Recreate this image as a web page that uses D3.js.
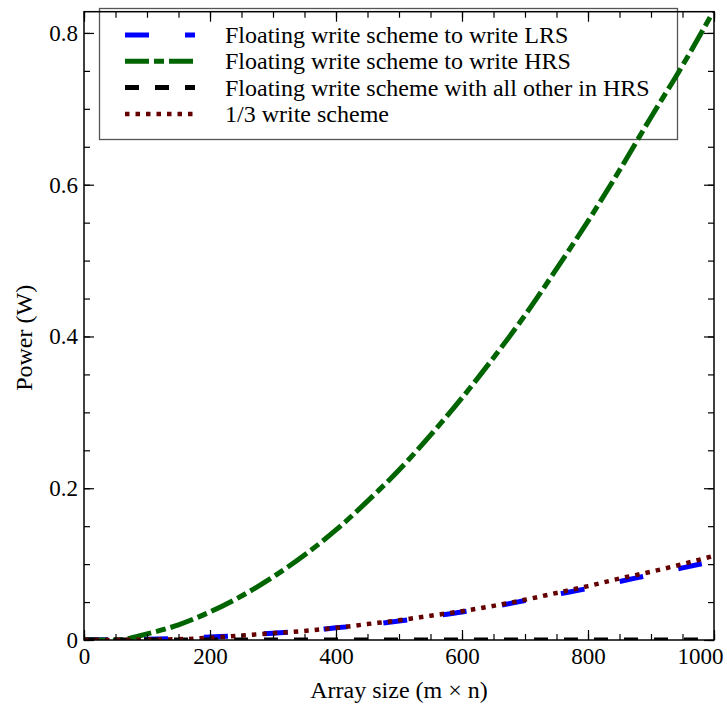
<!DOCTYPE html>
<html>
<head>
<meta charset="utf-8">
<script src="https://cdn.jsdelivr.net/npm/d3@7"></script>
<style>
  body { margin: 0; background: #fff; }
  svg text { font-family: "Liberation Serif", "DejaVu Serif", serif; fill: #000; }
</style>
</head>
<body>
<svg width="727" height="708"></svg>
<script>
// array size samples (m x n)
var arraySize = [0, 50, 100, 150, 200, 250, 300, 350, 400, 450, 500,
                 550, 600, 650, 700, 750, 800, 850, 900, 950, 1000];
// power (W)
var lrsPower = [0, 0.0005, 0.001, 0.002, 0.004, 0.006, 0.009, 0.012, 0.016, 0.020, 0.025,
                0.031, 0.037, 0.044, 0.052, 0.060, 0.068, 0.077, 0.086, 0.095, 0.104];
var hrsPower = [0, 0, 0.008, 0.020, 0.037, 0.058, 0.083, 0.112, 0.145, 0.183, 0.224,
                0.270, 0.319, 0.372, 0.428, 0.489, 0.552, 0.619, 0.689, 0.757, 0.830];
var otherHrsPower = [0, 0, 0, 0, 0, 0, 0, 0, 0, 0, 0,
                     0, 0, 0, 0, 0, 0, 0, 0, 0, 0];
var thirdPower = [0, 0, 0.0005, 0.001, 0.003, 0.006, 0.009, 0.012, 0.016, 0.021, 0.026,
                  0.032, 0.038, 0.045, 0.053, 0.062, 0.071, 0.081, 0.090, 0.100, 0.111];
var seriesNames = ["Floating write scheme to write LRS",
                   "Floating write scheme to write HRS",
                   "Floating write scheme with all other in HRS",
                   "1/3 write scheme"];
var xTicks = [0, 200, 400, 600, 800, 1000];
var yTicks = [0, 0.2, 0.4, 0.6, 0.8];

var series = [
    {name: seriesNames[0], values: lrsPower, color: "#0000ff", dash: "24,36", width: 5},
    {name: seriesNames[1], values: hrsPower, color: "#006400", dash: "24,5,10,5", width: 5},
    {name: seriesNames[2], values: otherHrsPower, color: "#000000", dash: "14,16", width: 5},
    {name: seriesNames[3], values: thirdPower, color: "#650000", dash: "4.5,6", width: 4.5}
];

var svg = d3.select("svg");
var plotLeft = 84, plotRight = 714, plotTop = 11.7, plotBottom = 640;

var x = d3.scaleLinear().domain([0, 1000]).range([plotLeft, plotRight]);
var y = d3.scaleLinear().domain([0, 0.828]).range([plotBottom, plotTop]);

svg.append("defs").append("clipPath").attr("id", "plotclip")
    .append("rect")
    .attr("x", plotLeft).attr("y", plotTop)
    .attr("width", plotRight - plotLeft).attr("height", plotBottom - plotTop);

// legend box (drawn under the curves)
var legend = svg.append("g").attr("class", "legend");
legend.append("rect")
    .attr("x", 99.5).attr("y", 8.5)
    .attr("width", 578).attr("height", 131)
    .attr("fill", "none")
    .attr("stroke", "#555")
    .attr("stroke-width", 1.3);

var line = d3.line()
    .x(function(d, i) { return x(arraySize[i]); })
    .y(function(d) { return y(d); })
    .curve(d3.curveMonotoneX);

svg.append("g")
    .attr("clip-path", "url(#plotclip)")
    .selectAll("path")
    .data(series)
    .enter().append("path")
    .attr("d", function(d) { return line(d.values); })
    .attr("fill", "none")
    .attr("stroke", function(d) { return d.color; })
    .attr("stroke-width", function(d) { return d.width; })
    .attr("stroke-dasharray", function(d) { return d.dash; });

var rows = legend.selectAll("g.row")
    .data(series)
    .enter().append("g")
    .attr("class", "row")
    .attr("transform", function(d, i) { return "translate(0," + (35 + i * 26.3) + ")"; });
rows.append("line")
    .attr("x1", 125).attr("x2", 195)
    .attr("y1", 0).attr("y2", 0)
    .attr("stroke", function(d) { return d.color; })
    .attr("stroke-width", function(d) { return d.width; })
    .attr("stroke-dasharray", function(d) { return d.dash; });
rows.append("text")
    .attr("x", 225).attr("y", 8)
    .style("font-size", "24px")
    .text(function(d) { return d.name; });

// axes with inward ticks, minor every 50 / 0.05
function styleAxis(g) {
    g.select(".domain").remove();
    g.selectAll(".tick line").attr("stroke", "#000").attr("stroke-width", 1.2);
    g.selectAll("text").style("font-size", "23px").attr("font-family", null);
}
var xMinor = d3.range(0, 1001, 50);
var yMinor = d3.range(0, 0.81, 0.05);

svg.append("g").attr("transform", "translate(0," + plotBottom + ")")
    .call(d3.axisBottom(x).tickValues(xMinor).tickSize(-6).tickFormat(""))
    .call(styleAxis);
svg.append("g").attr("class", "x-axis").attr("transform", "translate(0," + plotBottom + ")")
    .call(d3.axisBottom(x).tickValues(xTicks).tickSizeInner(-10).tickSizeOuter(0).tickPadding(8).tickFormat(d3.format("d")))
    .call(styleAxis);
svg.select(".x-axis").selectAll(".tick text")
    .filter(function(d) { return d === 1000; })
    .attr("text-anchor", "end").attr("x", 9);
svg.append("g").attr("transform", "translate(0," + plotTop + ")")
    .call(d3.axisTop(x).tickValues(xMinor).tickSize(-6).tickFormat(""))
    .call(styleAxis);
svg.append("g").attr("transform", "translate(0," + plotTop + ")")
    .call(d3.axisTop(x).tickValues(xTicks).tickSize(-10).tickFormat(""))
    .call(styleAxis);

svg.append("g").attr("transform", "translate(" + plotLeft + ",0)")
    .call(d3.axisLeft(y).tickValues(yMinor).tickSize(-6).tickFormat(""))
    .call(styleAxis);
svg.append("g").attr("transform", "translate(" + plotLeft + ",0)")
    .call(d3.axisLeft(y).tickValues(yTicks).tickSizeInner(-10).tickSizeOuter(0).tickPadding(6).tickFormat(function(d) { return d === 0 ? "0" : d3.format(".1f")(d); }))
    .call(styleAxis);
svg.append("g").attr("transform", "translate(" + plotRight + ",0)")
    .call(d3.axisRight(y).tickValues(yMinor).tickSize(-6).tickFormat(""))
    .call(styleAxis);
svg.append("g").attr("transform", "translate(" + plotRight + ",0)")
    .call(d3.axisRight(y).tickValues(yTicks).tickSize(-10).tickFormat(""))
    .call(styleAxis);

// frame
svg.append("rect")
    .attr("x", plotLeft).attr("y", plotTop)
    .attr("width", plotRight - plotLeft).attr("height", plotBottom - plotTop)
    .attr("fill", "none")
    .attr("stroke", "#000")
    .attr("stroke-width", 1.5);

svg.append("text")
    .attr("x", (plotLeft + plotRight) / 2).attr("y", 698)
    .attr("text-anchor", "middle")
    .style("font-size", "24px")
    .text("Array size (m \u00d7 n)");
svg.append("text")
    .attr("transform", "translate(32," + ((plotTop + plotBottom) / 2 + 12) + ") rotate(-90)")
    .attr("text-anchor", "middle")
    .style("font-size", "24px")
    .text("Power (W)");
</script>
</body>
</html>
